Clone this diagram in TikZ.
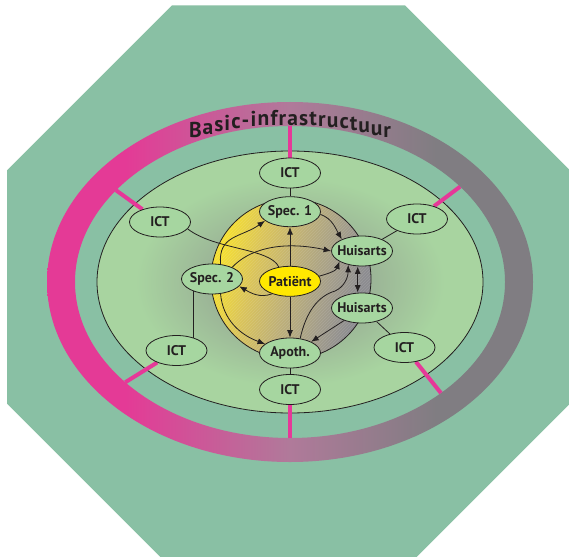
\documentclass[tikz,border=0pt]{standalone}
\usepackage{fontspec}
\setmainfont{PT Sans}
\usetikzlibrary{shapes.geometric,arrows.meta,decorations.text,patterns,calc}

% palette
\definecolor{octa}{RGB}{137,192,164}
\definecolor{ringpink}{RGB}{228,58,150}
\definecolor{ringmid}{RGB}{176,122,154}
\definecolor{ringgray}{RGB}{128,125,130}
\definecolor{spokepink}{RGB}{230,56,152}
\definecolor{fieldrim}{RGB}{168,212,160}
\definecolor{fieldcore}{RGB}{152,172,148}
\definecolor{nodefill}{RGB}{166,214,160}
\definecolor{patfill}{RGB}{255,232,0}
\definecolor{txt}{RGB}{35,31,32}
\definecolor{gYa}{RGB}{244,222,50}
\definecolor{gYb}{RGB}{218,196,90}
\definecolor{gK}{RGB}{190,176,120}
\definecolor{gGa}{RGB}{163,157,138}
\definecolor{gGb}{RGB}{140,140,144}

% shadings (the central 50bp of each is fitted to the path)
\pgfdeclarehorizontalshading{ringgrad}{100bp}{color(0bp)=(ringpink); color(33bp)=(ringpink); color(50bp)=(ringmid); color(65bp)=(ringgray); color(100bp)=(ringgray)}
\pgfdeclareradialshading{fieldglow}{\pgfpoint{0bp}{0bp}}{color(0bp)=(fieldcore); color(8bp)=(fieldcore); color(20bp)=(fieldrim); color(50bp)=(fieldrim)}
\pgfdeclarehorizontalshading{globegrad}{100bp}{color(0bp)=(gYa); color(27bp)=(gYa); color(38bp)=(gYb); color(50bp)=(gK); color(62bp)=(gGa); color(72bp)=(gGb); color(100bp)=(gGb)}

\newcommand\titlefont{\fontsize{21.5}{21.5}\selectfont\bfseries}

\pgfdeclarelayer{back}
\pgfdeclarelayer{links}
\pgfsetlayers{back,links,main}

\tikzset{
  agent/.style={ellipse, draw=txt, line width=0.8pt, fill=nodefill,
    minimum width=61pt, minimum height=30pt, inner xsep=-4pt, inner ysep=0pt,
    font=\fontsize{14}{14}\selectfont\bfseries, text=txt},
  wire/.style={draw=txt, line width=0.8pt},
  linkarrow/.style={wire, -{Latex[length=7.5pt,width=6pt]}},
  spokeline/.style={draw=spokepink, line width=4pt},
}

\begin{document}
\begin{tikzpicture}[x=1pt,y=1pt]
\useasboundingbox (0,0) rectangle (569,-556);
\clip (0,0) rectangle (569,-556);
\coordinate (rc) at (290,-282);
\coordinate (gc) at (291,-279);

% ---------- nodes ----------
\node[agent] (ictT)  at (290,-173)   {ICT};
\node[agent] (sp1)   at (290,-211.7) {Spec. 1};
\node[agent] (ictUL) at (160,-222)   {ICT};
\node[agent] (ictUR) at (417,-219)   {ICT};
\node[agent] (hu1)   at (362,-251)   {Huisarts};
\node[agent] (sp2)   at (212,-279)   {Spec. 2};
\node[agent, fill=patfill] (pat) at (290,-281.3) {Patiënt};
\node[agent] (hu2)   at (362,-308)   {Huisarts};
\node[agent] (ictLL) at (176.5,-350.5) {ICT};
\node[agent] (ictLR) at (404.5,-347.5) {ICT};
\node[agent] (apo)   at (290,-353)   {Apoth.};
\node[agent] (ictB)  at (290,-389.5) {ICT};

% ---------- background: octagon, ring, field, globe ----------
\begin{pgfonlayer}{back}
\fill[white] (0,0) rectangle (569,-556);
\fill[octa] (570,-170.4) -- (405.1,-5.5) -- (171.9,-5.5) -- (7,-170.4)
  -- (7,-403.6) -- (171.9,-568.5) -- (405.1,-568.5) -- (570,-403.6) -- cycle;
\shade[shading=ringgrad, even odd rule]
  (rc) ellipse[x radius=243, y radius=180]
  (rc) ellipse[x radius=215, y radius=156];
\shade[shading=fieldglow] (rc) ellipse[x radius=193, y radius=131];
\draw[txt, line width=0.8pt] (rc) ellipse[x radius=193, y radius=131];
\shade[shading=globegrad, shading angle=-15] (gc) circle[radius=80];
\fill[pattern=north east lines, pattern color=white, opacity=0.12] (gc) circle[radius=80];
\draw[txt, line width=0.8pt] (gc) circle[radius=80];
% title set letter by letter along the top of the ring
\path[decorate, decoration={text effects along path, text align=center,
    text={Basic-infrastructuur},
    text effects/.cd,
      character widths={inner xsep=0.6pt, inner ysep=0pt, font=\titlefont},
      characters={anchor=base, inner sep=0pt, text=txt, font=\titlefont}}]
  (rc) ++(135:245 and 157) arc[start angle=135, end angle=45, x radius=245, y radius=157];
\end{pgfonlayer}

% ---------- connectors ----------
\begin{pgfonlayer}{links}
% spokes from the ring to the ICT nodes
\coordinate (sT)  at ($(rc)+(90:215 and 156)$);
\coordinate (sUL) at ($(rc)+(144:215 and 156)$);
\coordinate (sUR) at ($(rc)+(37.7:215 and 156)$);
\coordinate (sLL) at ($(rc)+(220:215 and 156)$);
\coordinate (sLR) at ($(rc)+(314.6:215 and 156)$);
\coordinate (sB)  at ($(rc)+(270:215 and 156)$);
\draw[spokeline] (sT) -- (ictT);
\draw[spokeline] (sUL) -- (ictUL);
\draw[spokeline] (sUR) -- (ictUR);
\draw[spokeline] (sLL) -- (ictLL);
\draw[spokeline] (sLR) -- (ictLR);
\draw[spokeline] (sB) -- (ictB);

% ICT links
\draw[wire] (ictT) -- (sp1);
\draw[wire] (apo) -- (ictB);
\draw[wire] (ictUR) -- (hu1);
\draw[wire] (hu2) -- (ictLR);
\draw[wire] ([xshift=-18.7pt]sp2.center) -- ([xshift=16.8pt]ictLL.center);
\draw[wire] (ictUL.-14) .. controls (215,-250) and (270,-248) .. (pat.128);

% flows between the care providers
\draw[linkarrow] (pat) -- (sp1);
\draw[linkarrow] (pat) -- (apo);
\draw[linkarrow] (sp1.-5) to[out=-20, in=120] (hu1.150);
\draw[linkarrow] (sp2.60) to[out=95, in=215, looseness=1.2] (sp1.200);
\draw[linkarrow] (sp2.30) .. controls (248,-250) and (280,-240) .. (hu1.180);
\draw[linkarrow] (pat.215) to[out=200, in=-30] (sp2.-15);
\draw[linkarrow] (pat.10) to[out=15, in=250] (hu1.205);
\draw[linkarrow] (apo.55) .. controls (306,-312) and (318,-296) .. (335,-291)
  .. controls (344,-287) and (348,-278) .. (hu1.225);
\draw[linkarrow] (sp2.-60) to[out=-85, in=160] (apo.160);
\draw[linkarrow] (hu2.215) -- (apo.28);
\draw[wire, {Latex[length=7.5pt,width=6pt]}-{Latex[length=7.5pt,width=6pt]}]
  ([xshift=-4.3pt]hu1.south) -- ([xshift=-4.3pt]hu2.north);
\end{pgfonlayer}
\end{tikzpicture}
\end{document}
